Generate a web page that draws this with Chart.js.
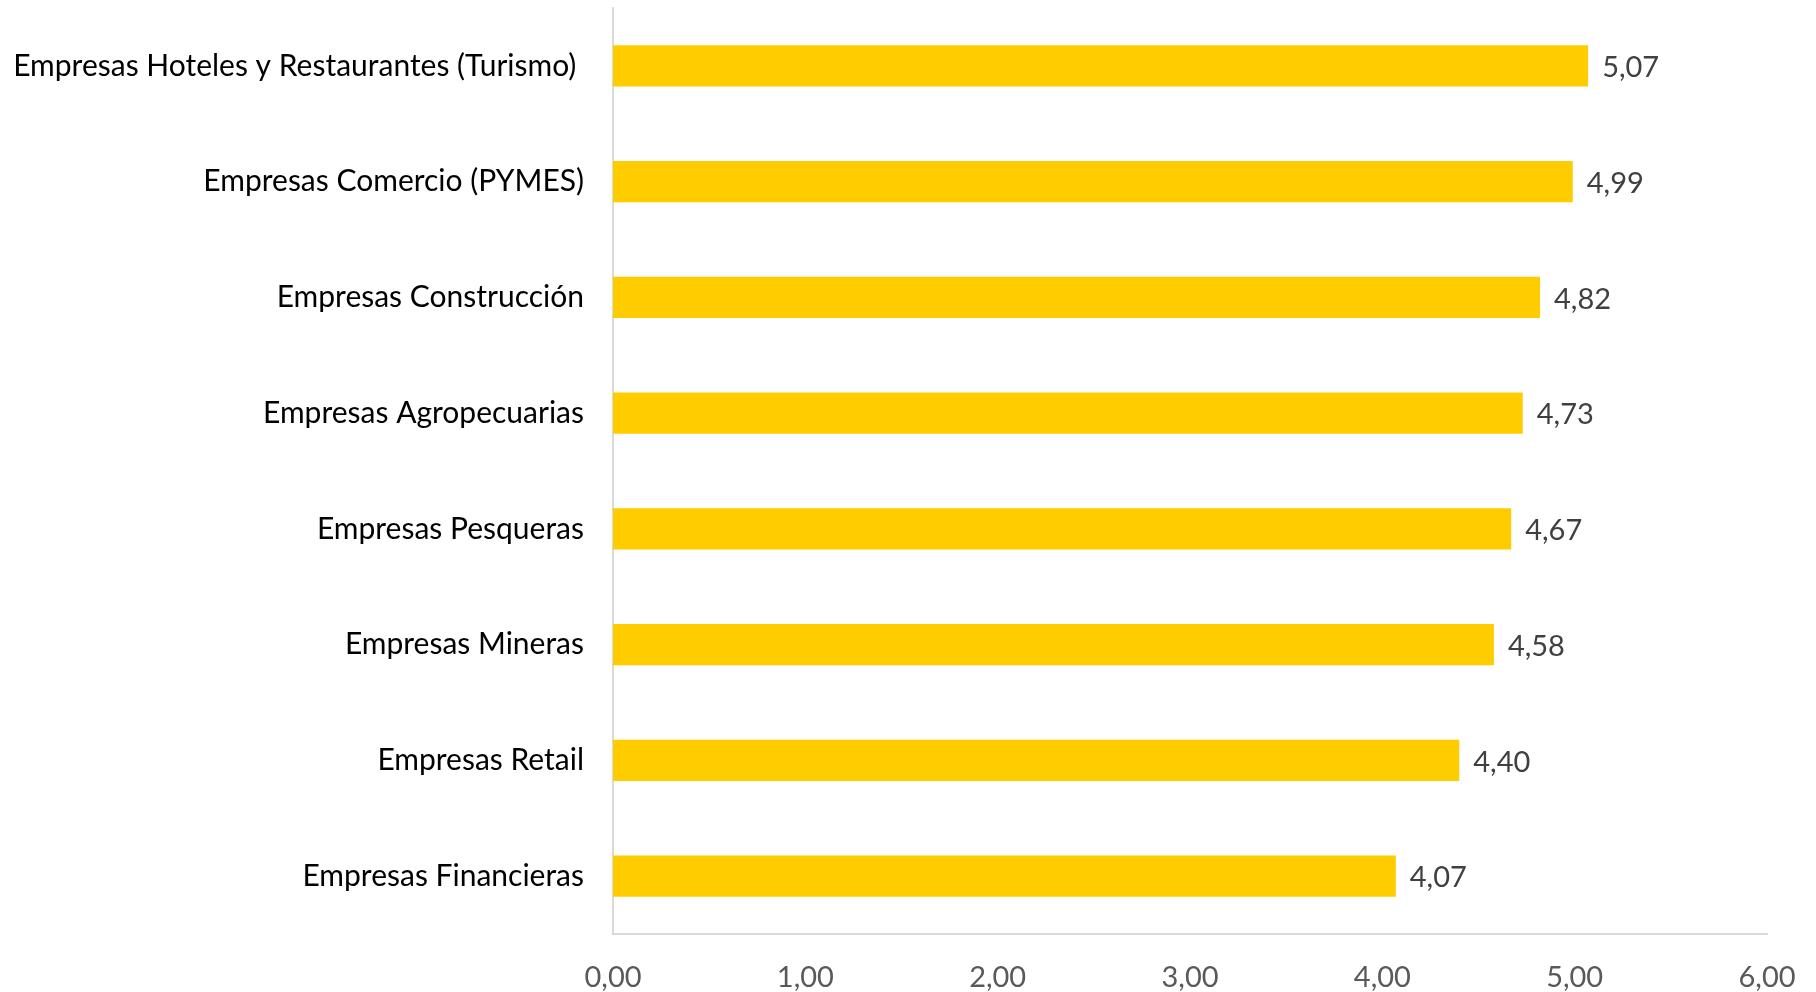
<!DOCTYPE html>
<html>
<head>
<meta charset="utf-8">
<style>
  html, body { margin: 0; padding: 0; background: #fff; }
  #wrap { width: 1816px; height: 992px; }
</style>
<script src="https://cdn.jsdelivr.net/npm/chart.js@4"></script>
</head>
<body>
<div id="wrap"><canvas id="chart" width="1816" height="992"></canvas></div>
<script>
// categories (top to bottom) and their values
const sectors = [
  'Empresas Hoteles y Restaurantes (Turismo) ',
  'Empresas Comercio (PYMES)',
  'Empresas Construcción',
  'Empresas Agropecuarias',
  'Empresas Pesqueras',
  'Empresas Mineras',
  'Empresas Retail',
  'Empresas Financieras'
];
const scores = [5.07, 4.99, 4.82, 4.73, 4.67, 4.58, 4.40, 4.07];
const axisMin = 0;
const axisMax = 6;
const axisStep = 1;

const barColor = '#FFCC00';
const axisLineColor = '#D9D9D9';
const fontFamily = 'Lato, "Open Sans", sans-serif';

// comma as decimal separator, two decimals
function fmt(v) {
  return Number(v).toFixed(2).replace('.', ',');
}

// draws the value next to the end of each bar
const valueLabels = {
  id: 'valueLabels',
  afterDatasetsDraw(chart) {
    const ctx = chart.ctx;
    const meta = chart.getDatasetMeta(0);
    ctx.save();
    ctx.font = '29px ' + fontFamily;
    ctx.fillStyle = '#404040';
    ctx.textAlign = 'left';
    ctx.textBaseline = 'middle';
    meta.data.forEach((bar, i) => {
      ctx.fillText(fmt(scores[i]), bar.x + 14, bar.y + 2);
    });
    ctx.restore();
  }
};

new Chart(document.getElementById('chart'), {
  type: 'bar',
  data: {
    labels: sectors,
    datasets: [{
      data: scores,
      backgroundColor: barColor,
      borderWidth: 0,
      categoryPercentage: 1,
      barPercentage: 0.355
    }]
  },
  options: {
    indexAxis: 'y',
    responsive: false,
    animation: false,
    layout: { padding: { top: 8, right: 0, bottom: 0, left: 0 } },
    plugins: {
      legend: { display: false },
      tooltip: { enabled: false }
    },
    scales: {
      x: {
        min: axisMin,
        max: axisMax,
        grid: { display: false },
        border: { display: true, color: axisLineColor, width: 2 },
        ticks: {
          stepSize: axisStep,
          color: '#595959',
          font: { family: fontFamily, size: 29 },
          padding: 18,
          maxRotation: 0,
          callback: v => fmt(v)
        },
        afterFit: s => {
          s.height = 58;
          s.paddingRight = 49;
        }
      },
      y: {
        grid: { display: false },
        border: { display: true, color: axisLineColor, width: 2 },
        ticks: {
          color: '#000000',
          font: { family: fontFamily, size: 30 },
          padding: 21
        },
        afterFit: s => {
          s.width = 613;
          // no extra room above/below the category band
          s.paddingTop = 0;
          s.paddingBottom = 0;
        }
      }
    }
  },
  plugins: [valueLabels]
});
</script>
</body>
</html>
